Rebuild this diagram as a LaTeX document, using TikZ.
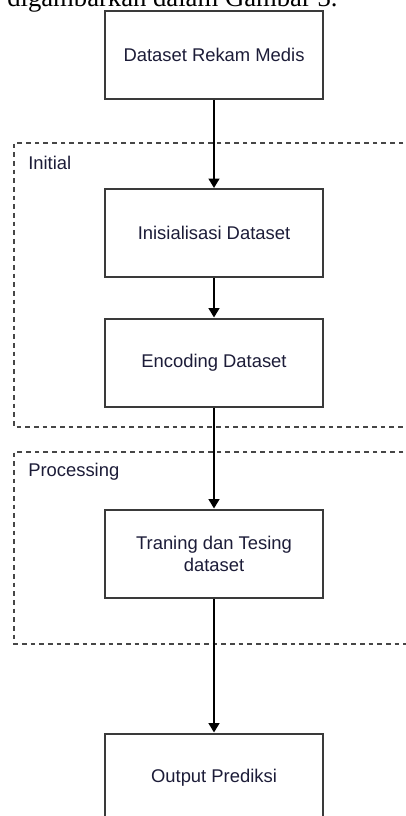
\documentclass[tikz,border=0pt]{standalone}
\usepackage{fontspec}
\setmainfont{Liberation Serif}
\newfontfamily\arialfont{Liberation Sans}
\usetikzlibrary{arrows.meta}
\definecolor{labelink}{RGB}{28,28,56}
\definecolor{boxline}{RGB}{58,58,58}
\definecolor{frameline}{RGB}{70,70,70}
\tikzset{
  stepbox/.style={draw=boxline, line width=1.5pt, fill=white, rectangle,
    minimum width=163.5pt, minimum height=66pt, inner sep=0pt,
    font=\arialfont\fontsize{13.8pt}{16.5pt}\selectfont, text=labelink,
    align=center},
  flow/.style={draw=black, line width=1.5pt,
    -{Triangle[width=8pt,length=7pt]}},
  groupframe/.style={draw=frameline, line width=1.1pt,
    dash pattern=on 3.6pt off 2.9pt},
  grouplabel/.style={anchor=west, inner sep=0pt,
    font=\arialfont\fontsize{13.8pt}{16.5pt}\selectfont, text=labelink},
}
\begin{document}
\begin{tikzpicture}[x=0.75pt, y=-0.75pt]
  \useasboundingbox (0,0) rectangle (406,816);
  \clip (0,0) rectangle (406,816);
  \fill[white] (0,0) rectangle (406,816);

  % running text of the page, cut by the top edge
  \node[anchor=base west, inner sep=0pt, font=\fontsize{20pt}{24pt}\selectfont]
    (caption) at (7,7) {digambarkan dalam Gambar 3.};

  % group frames, open on the right
  \draw[groupframe] (412,143) -- (14,143) -- (14,427) -- (412,427);
  \draw[groupframe] (412,452) -- (14,452) -- (14,644) -- (412,644);
  \node[grouplabel] (initial) at (28,163) {Initial};
  \node[grouplabel] (processing) at (28,472) {Processing};

  % process steps
  \node[stepbox] (rekam)  at (214,55)    {Dataset Rekam Medis};
  \node[stepbox] (inisial) at (214,233)  {Inisialisasi Dataset};
  \node[stepbox] (encode) at (214,362.5) {Encoding Dataset};
  \node[stepbox] (train)  at (214,553.5) {Traning dan Tesing\\dataset};
  \node[stepbox] (output) at (214,777.5) {Output Prediksi};

  % connectors
  \draw[flow] (rekam.south) -- (inisial.north);
  \draw[flow] (inisial.south) -- (encode.north);
  \draw[flow] (encode.south) -- (train.north);
  \draw[flow] (train.south) -- (output.north);
\end{tikzpicture}
\end{document}
